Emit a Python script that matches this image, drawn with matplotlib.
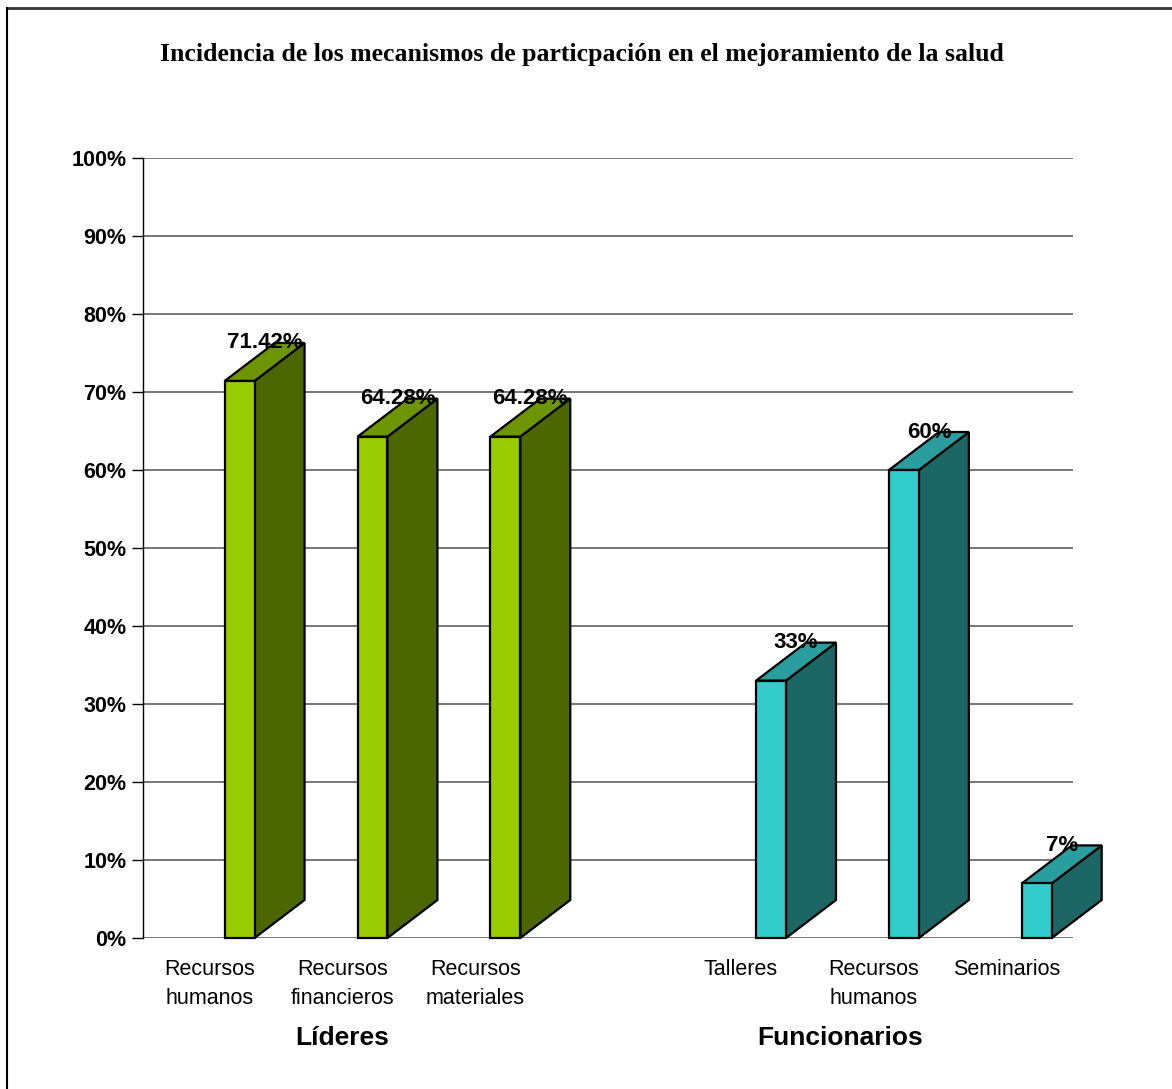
import matplotlib
matplotlib.use("Agg")
import matplotlib.pyplot as plt
from matplotlib.patches import Polygon
from matplotlib.lines import Line2D
import matplotlib.transforms as mtransforms

# ---- data ----
categories = ["Recursos\nhumanos", "Recursos\nfinancieros", "Recursos\nmateriales", "",
              "Talleres", "Recursos\nhumanos", "Seminarios"]
values = [71.42, 64.28, 64.28, None, 33.0, 60.0, 7.0]
value_labels = ["71.42%", "64.28%", "64.28%", "", "33%", "60%", "7%"]
groups = ["Líderes", "Funcionarios"]
group_pos = [1.0, 4.75]
yticks = list(range(0, 101, 10))
ytick_labels = [f"{t}%" for t in yticks]
title = "Incidencia de los mecanismos de particpación en el mejoramiento de la salud"

green = ("#99CC00", "#6E9400", "#4C6600")
teal = ("#33CCCC", "#2A9E9E", "#1C6666")
bar_colors = [green, green, green, None, teal, teal, teal]

W, H = 1172, 1089
fig = plt.figure(figsize=(W / 100, H / 100), dpi=100)
fig.patch.set_facecolor("white")
ax = fig.add_axes([143 / W, (H - 938) / H, (1073 - 143) / W, (938 - 158) / H])
ax.set_xlim(-0.5, 6.5)
ax.set_ylim(0, 100)
ax.set_facecolor("white")

for s in ["top", "right", "bottom"]:
    ax.spines[s].set_visible(False)
ax.spines["left"].set_color("black")
ax.spines["left"].set_linewidth(1.0)

for t in yticks:
    ax.axhline(t, color="#777777", lw=1.4, zorder=0.5)

ax.set_yticks(yticks)
ax.set_yticklabels(ytick_labels, fontfamily="Liberation Sans", fontweight="bold", fontsize=15.5)
ax.tick_params(axis="y", length=8, width=1.0, color="black", pad=4)

ax.set_xticks(range(len(categories)))
ax.set_xticklabels(categories, fontfamily="Liberation Sans", fontsize=15.5)
ax.tick_params(axis="x", length=0, pad=15)
for lbl in ax.get_xticklabels():
    lbl.set_linespacing(1.5)
    lbl.set_verticalalignment("top")

x0off, x1off = 0.115, 0.34
dx = 0.376
dy = 4.87
for i, (v, c) in enumerate(zip(values, bar_colors)):
    if v is None:
        continue
    xl, xr = i + x0off, i + x1off
    front = Polygon([(xl, 0), (xr, 0), (xr, v), (xl, v)], closed=True,
                    facecolor=c[0], edgecolor="black", lw=1.6, zorder=3, clip_on=False)
    top = Polygon([(xl, v), (xr, v), (xr + dx, v + dy), (xl + dx, v + dy)], closed=True,
                  facecolor=c[1], edgecolor="black", lw=1.6, zorder=3, clip_on=False)
    side = Polygon([(xr, 0), (xr + dx, dy), (xr + dx, v + dy), (xr, v)], closed=True,
                   facecolor=c[2], edgecolor="black", lw=1.6, zorder=3, clip_on=False)
    for p in (side, top, front):
        ax.add_patch(p)
    ax.text((xl + xr + dx) / 2, v + dy, value_labels[i], ha="center", va="center",
            fontfamily="Liberation Sans", fontweight="bold", fontsize=16, zorder=5)

trans = mtransforms.blended_transform_factory(ax.transData, ax.transAxes)
for g, gx in zip(groups, group_pos):
    ax.text(gx, -0.128, g, transform=trans, ha="center", va="center",
            fontfamily="Liberation Sans", fontweight="bold", fontsize=19)

fig.text(582 / W, 1 - 55 / H, title, ha="center", va="center",
         fontfamily="Liberation Serif", fontweight="bold", fontsize=18.5)

# figure border (top and left)
fig.add_artist(Line2D([7 / W, 1.0], [1 - 8 / H, 1 - 8 / H], transform=fig.transFigure,
                      color="#333333", lw=2))
fig.add_artist(Line2D([7 / W, 7 / W], [0, 1 - 8 / H], transform=fig.transFigure,
                      color="black", lw=1.5))

fig.savefig("out.png", dpi=100, facecolor="white")
